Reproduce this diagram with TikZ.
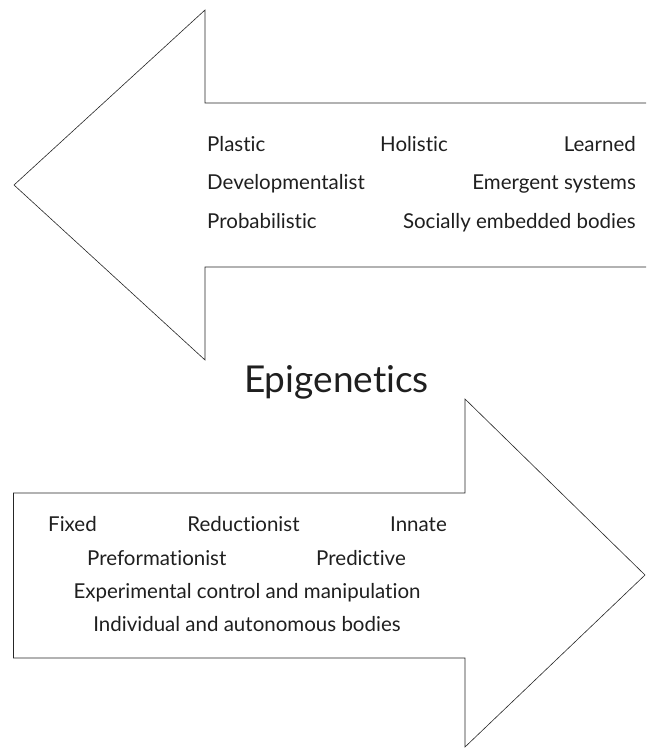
\documentclass[tikz,border=0pt]{standalone}
\usepackage{fontspec}
\setmainfont{Lato}[Ligatures=NoCommon]
\usepackage{tikz}

\tikzset{
  outline/.style={draw=black!85, line width=0.6pt, line join=miter},
  trait/.style={font=\fontsize{20.5}{24}\selectfont, text=black!88, inner sep=0pt},
  title/.style={font=\fontsize{37}{44}\selectfont, text=black!88, inner sep=0pt},
}

\begin{document}
\begin{tikzpicture}[x=1pt,y=1pt]
  \useasboundingbox (0,0) rectangle (646,750);
  \draw[outline] (646,647) -- (205,647) -- (205,740) -- (14,565) -- (205,390) -- (205,483) -- (646,483);
  \draw[outline] (465,351) -- (465,257) -- (13.5,257) -- (13.5,92) -- (465,92) -- (465,3) -- (645,175) -- cycle;

  \node[trait, anchor=base west] (plastic) at (207,598) {Plastic};
  \node[trait, anchor=base] (holistic) at (414,598) {Holistic};
  \node[trait, anchor=base east] (learned) at (636,598) {Learned};
  \node[trait, anchor=base west] (develop) at (207,560) {Developmentalist};
  \node[trait, anchor=base east] (emergent) at (636,560) {Emergent systems};
  \node[trait, anchor=base west] (probab) at (207,521) {Probabilistic};
  \node[trait, anchor=base east] (social) at (636,521) {Socially embedded bodies};

  \node[title, anchor=base] (epi) at (336.5,357) {Epigenetics};

  \node[trait, anchor=base west] (fixed) at (48,218) {Fixed};
  \node[trait, anchor=base] (reduct) at (243.5,218) {Reductionist};
  \node[trait, anchor=base east] (innate) at (447,218) {Innate};
  \node[trait, anchor=base west] (preform) at (87,184) {Preformationist};
  \node[trait, anchor=base east] (predict) at (406,184) {Predictive};
  \node[trait, anchor=base] (experim) at (247,151) {Experimental control and manipulation};
  \node[trait, anchor=base] (indiv) at (247,118) {Individual and autonomous bodies};
\end{tikzpicture}
\end{document}
